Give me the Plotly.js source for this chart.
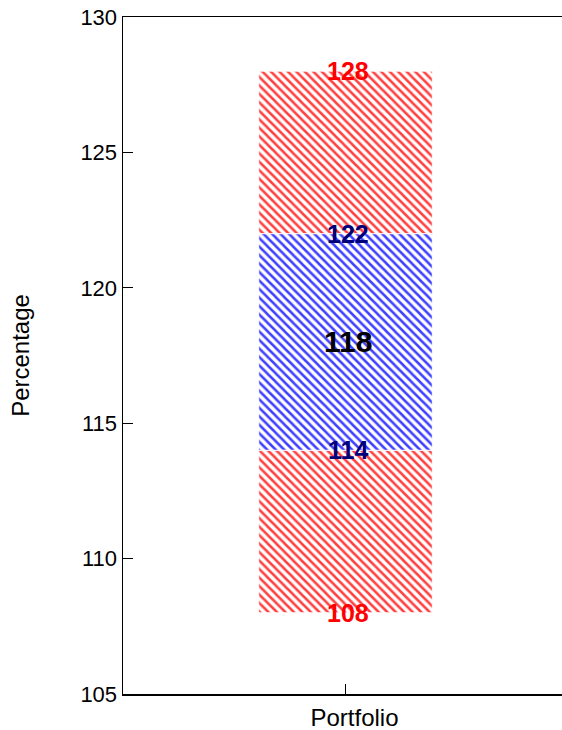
<!DOCTYPE html>
<html>
<head>
<meta charset="utf-8">
<script src="https://cdn.plot.ly/plotly-3.0.1.min.js"></script>
<style>
html,body{margin:0;padding:0;overflow:hidden;background:#fff;}
#chart{width:568px;height:730px;}
</style>
</head>
<body>
<div id="chart"></div>
<script>
// Data
var categories = ['Portfolio'];
var p5 = [108];      // lower end of lower red band
var p25 = [114];     // lower end of blue band
var median = [118];  // centre label
var p75 = [122];     // upper end of blue band
var p95 = [128];     // upper end of upper red band
var yTicks = [105, 110, 115, 120, 125, 130];

var xs = categories.map(function(c, i){ return i; });
var font = 'Liberation Sans, Arial, Helvetica, sans-serif';

function band(lo, hi, color){
  return {
    type: 'bar',
    x: xs,
    base: lo,
    y: hi.map(function(v, i){ return v - lo[i]; }),
    width: 0.39,
    marker: {
      color: 'white',
      line: {color: 'rgba(255,255,255,0.9)', width: 1},
      pattern: {shape: '\\', fgcolor: color, bgcolor: 'white', size: 6, solidity: 0.42, fgopacity: 0.75}
    },
    hoverinfo: 'skip',
    showlegend: false
  };
}

var traces = [
  band(p5, p25, '#ff0000'),
  band(p25, p75, '#0000ff'),
  band(p75, p95, '#ff0000')
];

var ann = [];
function lab(vals, color, size){
  vals.forEach(function(v, i){
    ann.push({x: xs[i], y: v, xref: 'x', yref: 'y', text: '<b>' + v + '</b>', showarrow: false,
      xanchor: 'center', yanchor: 'middle', xshift: 2, font: {family: font, size: size, color: color}});
  });
}
lab(p95, '#ff0000', 25);
lab(p75, '#00007a', 25);
lab(median, '#000000', 30);
lab(p25, '#00007a', 25);
lab(p5, '#ff0000', 25);

var layout = {
  width: 568, height: 730,
  margin: {l: 123, r: 0, t: 17, b: 36},
  paper_bgcolor: 'white', plot_bgcolor: 'white',
  barmode: 'overlay',
  showlegend: false,
  font: {family: font, size: 22, color: '#000'},
  xaxis: {
    range: [-0.5, 0.5],
    tickvals: xs, ticktext: categories,
    ticks: 'inside', ticklen: 10, tickcolor: '#000', tickwidth: 1,
    showline: true, linecolor: '#000', linewidth: 1.5, mirror: true,
    showgrid: false, zeroline: false,
    ticklabelshift: 9, ticklabelstandoff: 2,
    tickfont: {family: font, size: 24, color: '#000'}
  },
  yaxis: {
    range: [105, 130],
    tickvals: yTicks,
    ticks: 'inside', ticklen: 10, tickcolor: '#000', tickwidth: 1,
    showline: true, linecolor: '#000', linewidth: 1.5, mirror: true,
    showgrid: false, zeroline: false,
    tickfont: {family: font, size: 22, color: '#000'},
    title: {text: 'Percentage', standoff: 44, font: {family: font, size: 24, color: '#000'}}
  },
  annotations: ann
};

Plotly.newPlot('chart', traces, layout, {displayModeBar: false, staticPlot: true});
</script>
</body>
</html>
